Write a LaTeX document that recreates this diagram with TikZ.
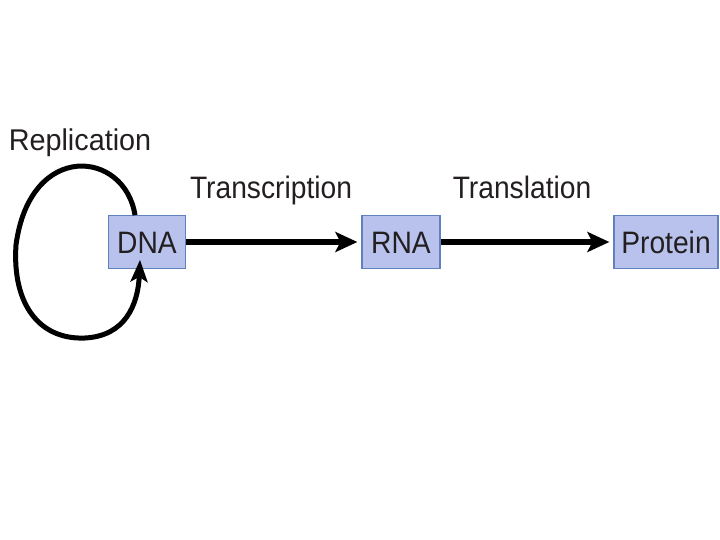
\documentclass[tikz,border=0pt]{standalone}
\usepackage{fontspec}
\setmainfont[FakeStretch=0.91]{Liberation Sans}
\newfontfamily\repfont[FakeStretch=0.96]{Liberation Sans}
\usetikzlibrary{arrows.meta}
\definecolor{boxfill}{RGB}{184,194,236}
\definecolor{boxline}{RGB}{96,128,190}
\definecolor{txt}{RGB}{35,31,32}
\tikzset{
  molbox/.style={draw=boxline, line width=1.2pt, fill=boxfill, text height=22.5pt, text depth=0pt, inner ysep=15pt, inner xsep=0pt, text=txt, font=\fontsize{31}{33}\selectfont},
  lbl/.style={text=txt, font=\fontsize{31}{33}\selectfont, inner sep=0pt, anchor=base},
  flow/.style={line width=6pt, -{Stealth[length=22pt,width=20pt,inset=5pt]}},
  loop/.style={line width=5pt, -{Stealth[length=22pt,width=17pt,inset=5pt]}}
}
\begin{document}
\begin{tikzpicture}[x=1pt,y=-1pt]
\useasboundingbox (0,0) rectangle (720,540);
\node[molbox, minimum width=77pt] (dna) at (147,242) {DNA};
\node[molbox, minimum width=78pt] (rna) at (401,242) {RNA};
\node[molbox, minimum width=104pt] (prot) at (666,242) {Protein};
\node[lbl, font=\repfont\fontsize{30}{32}\selectfont] (rep) at (80,151) {Replication};
\node[lbl] (tsc) at (271,198.5) {Transcription};
\node[lbl] (tsl) at (522,198.5) {Translation};
\draw[flow, shorten >=4pt] (dna) -- (rna);
\draw[flow, shorten >=4pt] (rna) -- (prot);
\draw[loop] ([xshift=-12pt]dna.north) .. controls (125,150) and (30,140) .. (16,245)
  .. controls (12,305) and (40,340) .. (85,338)
  .. controls (125,336) and (138,305) .. ([xshift=-7pt,yshift=9pt]dna.south);
\end{tikzpicture}
\end{document}
